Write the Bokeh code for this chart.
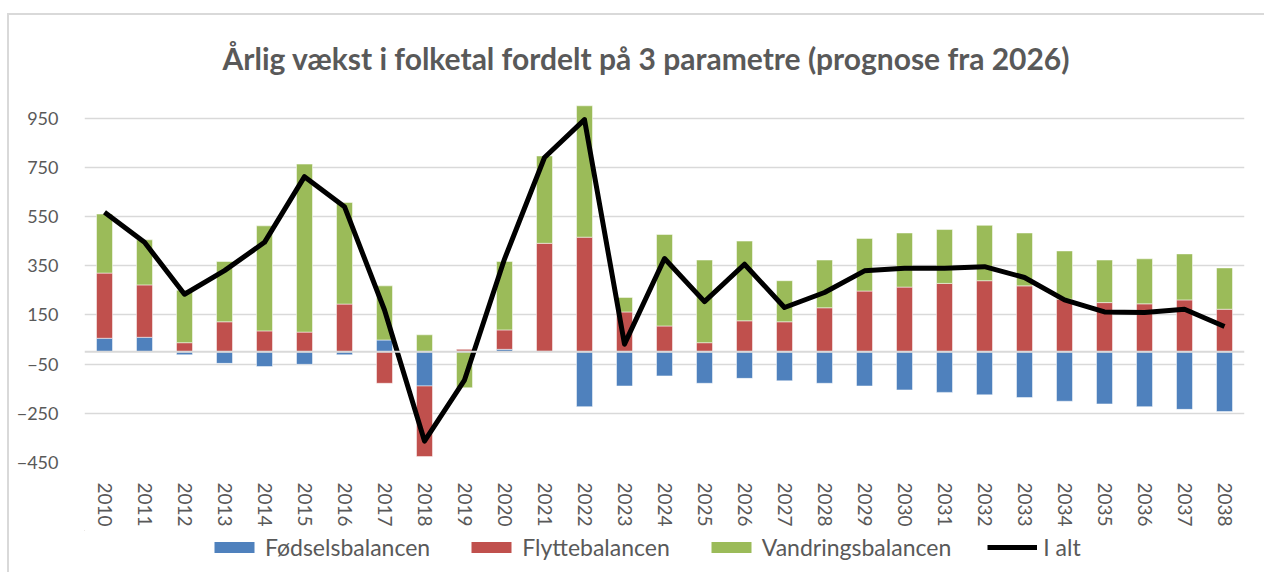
from bokeh.plotting import figure
from bokeh.layouts import column
from bokeh.models import ColumnDataSource, FixedTicker, Legend, LegendItem, Span, FactorRange, Range1d
from bokeh.embed import file_html
from bokeh.resources import INLINE

years = [str(y) for y in range(2010, 2039)]
foedsel = [55, 59, -12, -47, -60, -51, -12, 48, -139, 3, 10, 2, -223, -139, -98, -128, -108,
           -118, -128, -139, -155, -165, -175, -186, -201, -212, -223, -234, -243]
flytte = [265, 213, 37, 122, 85, 80, 194, -128, -287, 7, 79, 439, 466, 162, 105, 37, 126,
          122, 179, 247, 263, 278, 289, 268, 214, 200, 195, 211, 173]
vandring = [240, 183, 213, 245, 427, 683, 413, 220, 69, -146, 278, 355, 534, 59, 372, 336, 324,
            167, 194, 214, 220, 219, 225, 215, 196, 173, 183, 187, 168]
i_alt = [567, 445, 234, 330, 445, 712, 590, 170, -363, -115, 377, 790, 944, 31, 379, 204, 356,
         180, 241, 329, 340, 340, 346, 302, 211, 162, 160, 173, 103]
y_ticks = [-450, -250, -50, 150, 350, 550, 750, 950]

names = ["Fødselsbalancen", "Flyttebalancen", "Vandringsbalancen"]
colors = ["#4F81BD", "#C0504D", "#9BBB59"]
series = [foedsel, flytte, vandring]

FONT = "Lato"
TXT = "#595959"

p = figure(x_range=FactorRange(*years, range_padding=0), y_range=(-450, 1050),
           width=1255, height=515, output_backend="svg", toolbar_location=None,
           min_border_left=75, min_border_right=20, min_border_top=78, min_border_bottom=68)
p.outline_line_color = None

p.title.text = "Årlig vækst i folketal fordelt på 3 parametre (prognose fra 2026)"
p.title.align = "left"
p.title.offset = 138
p.title.text_font = FONT
p.title.text_font_size = "30px"
p.title.text_font_style = "bold"
p.title.text_color = TXT
p.title.standoff = 36

# stacking with positives up and negatives down
pos = [0] * len(years)
neg = [0] * len(years)
for name, col, vals in zip(names, colors, series):
    bot, top = [], []
    for i, v in enumerate(vals):
        if v >= 0:
            bot.append(pos[i]); top.append(pos[i] + v); pos[i] += v
        else:
            bot.append(neg[i] + v); top.append(neg[i]); neg[i] += v
    src = ColumnDataSource(dict(x=years, bottom=bot, top=top))
    p.vbar(x="x", bottom="bottom", top="top", width=0.4, source=src,
           fill_color=col, line_color="white", line_width=0.5)

zero = Span(location=0, dimension="width", line_color="#d9d9d9", line_width=2)
p.add_layout(zero)

p.line(x=years, y=i_alt, line_color="black", line_width=5, line_join="round")

p.ygrid.ticker = FixedTicker(ticks=y_ticks)
p.yaxis.ticker = FixedTicker(ticks=y_ticks)
p.ygrid.grid_line_color = "#d9d9d9"
p.ygrid.grid_line_width = 1.5
p.xgrid.grid_line_color = None

for ax in (p.xaxis[0], p.yaxis[0]):
    ax.axis_line_color = None
    ax.major_tick_line_color = None
    ax.minor_tick_line_color = None
    ax.major_label_text_font = FONT
    ax.major_label_text_color = TXT
p.yaxis.major_label_text_font_size = "18px"
p.xaxis.major_label_text_font_size = "19px"
p.yaxis.major_label_standoff = 20
p.xaxis.major_label_standoff = 14
p.xaxis.major_label_orientation = "vertical"

# legend strip (its renderers sit far outside the visible range; only the legend shows)
p2 = figure(width=1255, height=42, output_backend="svg", toolbar_location=None,
            x_range=Range1d(0, 1), y_range=Range1d(0, 1),
            min_border_left=75, min_border_right=20, min_border_top=0, min_border_bottom=0)
p2.axis.visible = False
p2.grid.visible = False
p2.outline_line_color = None
items = []
for name, col in zip(names, colors):
    r = p2.vbar(x=[-50], bottom=[50], top=[51], width=0.1, fill_color=col, line_color=None)
    items.append(LegendItem(label=name, renderers=[r]))
lr = p2.line(x=[-60, -50], y=[50, 50], line_color="black", line_width=5)
items.append(LegendItem(label="I alt", renderers=[lr]))
legend = Legend(items=items, orientation="horizontal", location=(125, 11),
                glyph_width=50, glyph_height=14, label_standoff=6, spacing=36,
                label_text_font=FONT, label_text_font_size="23px", label_text_color=TXT,
                border_line_color=None, background_fill_alpha=0, margin=0, padding=6)
p2.add_layout(legend)

layout = column(p, p2, spacing=0,
                styles={"margin-left": "7px", "margin-top": "13px",
                        "border-left": "2px solid #d9d9d9", "border-top": "2px solid #d9d9d9"})

open("out.html", "w").write(file_html(layout, INLINE))
